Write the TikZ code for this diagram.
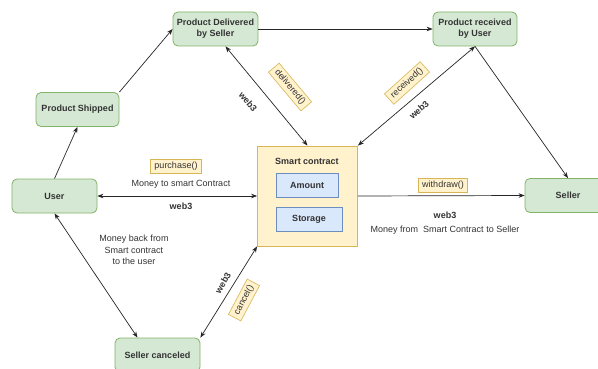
\documentclass[tikz,border=0pt]{standalone}
\usepackage{fontspec}
\setmainfont{Liberation Sans}
\usetikzlibrary{arrows.meta}

\definecolor{stategreen}{HTML}{D5E8D4}
\definecolor{stategreenline}{HTML}{82B366}
\definecolor{contractyellow}{HTML}{FFF2CC}
\definecolor{contractyellowline}{HTML}{D6B656}
\definecolor{fieldblue}{HTML}{DAE8FC}
\definecolor{fieldblueline}{HTML}{6C8EBF}
\definecolor{inktext}{HTML}{333333}

\tikzset{
  state/.style={draw=stategreenline, fill=stategreen, rounded corners=5pt, line width=0.8pt,
    font=\fontsize{9}{11}\selectfont\bfseries, text=inktext, align=center,
    minimum width=85pt, minimum height=34pt, inner sep=2pt},
  field/.style={draw=fieldblueline, fill=fieldblue, line width=0.8pt,
    font=\fontsize{9}{11}\selectfont\bfseries, text=inktext, minimum height=24pt},
  call/.style={draw=contractyellowline, fill=contractyellow, line width=0.6pt,
    font=\fontsize{9}{11}\selectfont, text=inktext, inner xsep=4pt, inner ysep=2pt, minimum height=14pt},
  note/.style={font=\fontsize{9}{11.5}\selectfont, text=inktext, align=center},
  webnote/.style={font=\fontsize{9}{11}\selectfont\bfseries, text=inktext},
  flow/.style={-{Stealth[length=6pt,width=4.5pt]}, line width=0.7pt, draw=black!85},
  twoway/.style={{Stealth[length=6pt,width=4.5pt]}-{Stealth[length=6pt,width=4.5pt]}, line width=0.7pt, draw=black!85},
}

\begin{document}
\begin{tikzpicture}[x=1pt, y=-1pt]
        % Page
        \path[use as bounding box, fill=white] (0,0) rectangle (598,369);

        % States
        \node[state] (delivered) at (215.5,29) {Product Delivered\\by Seller};
        \node[state, minimum width=84pt] (received) at (475,29) {Product received\\by User};
        \node[state, minimum width=83pt] (shipped) at (77.5,109.5) {Product Shipped};
        \node[state] (user) at (54.5,196) {User};
        \node[state, minimum width=86pt] (seller) at (568,195.5) {Seller};
        \node[state] (canceled) at (157.5,355) {Seller canceled};

        % Smart contract
        \node[draw=contractyellowline, fill=contractyellow, line width=0.8pt,
              minimum width=100pt, minimum height=100pt] (contract) at (307.5,196) {};
        \node[webnote] (contracttitle) at (307,161) {Smart contract};
        \node[field, minimum width=62pt] (amount) at (307,185) {Amount};
        \node[field, minimum width=66pt] (storage) at (309,219) {Storage};

        % Delivery path
        \draw[flow] (user.north) -- (shipped.south);
        \draw[flow] (shipped.north east) -- (delivered.west);
        \draw[flow] (delivered.east) -- (received.west);
        \draw[flow] (received.south) -- (seller.north);

        % Calls to the contract
        \draw[twoway] ([xshift=10pt]delivered.south) -- (contract.north);
        \draw[twoway] (received.south) -- (contract.north east);
        \draw[twoway] (user.east) -- (contract.west);
        \draw[flow] (contract.east) -- (seller.west);
        \draw[twoway] (user.south) -- ([xshift=-20pt]canceled.north);
        \draw[twoway] (canceled.north east) -- (contract.south west);

        % Labels
        \node[call] (purchaselbl) at (176,166) {purchase()};
        \node[note] (moneyin) at (181,184) {Money to smart Contract};
        \node[webnote] (webuser) at (181,206) {web3};
        \node[note] (moneyback) at (134,250) {Money back from\\Smart contract\\to the user};
        \node[call] (withdrawlbl) at (443,185) {withdraw()};
        \node[webnote] (webseller) at (445,215) {web3};
        \node[note] (moneyout) at (445,230) {Money from\ \ Smart Contract to Seller};
        \node[call, rotate=-50] (deliveredlbl) at (290,87) {delivered()};
        \node[webnote, rotate=-50] (webdelivered) at (248,102) {web3};
        \node[call, rotate=42] (receivedlbl) at (407,83) {received()};
        \node[webnote, rotate=42] (webreceived) at (419,110) {web3};
        \node[call, rotate=62] (cancellbl) at (244,300) {cancel()};
        \node[webnote, rotate=60] (webcancel) at (223,283) {web3};

    \end{tikzpicture}
\end{document}
